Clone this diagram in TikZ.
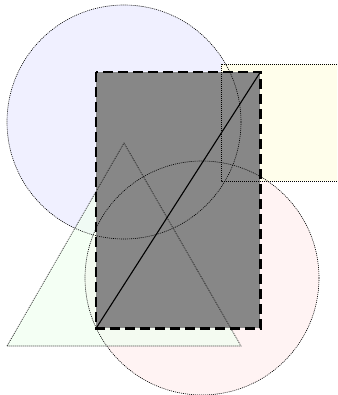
\documentclass[tikz,border=0pt]{standalone}
\begin{document}
\begin{tikzpicture}[x=1pt,y=-1pt,
  shapeline/.style={draw=black,dash pattern=on 1pt off 1pt,line width=0.6pt},
  graybox/.style={fill=black!47},
  grayborder/.style={draw=black,line width=2.8pt,dash pattern=on 10pt off 5pt},
  diag/.style={draw=black,line width=1.1pt}]
\useasboundingbox (0,0) rectangle (337,395);
\clip (0,0) rectangle (337,395);
% fills
\fill[blue!6] (124,122) circle (117);
\fill[red!6,fill opacity=0.8] (202,278) circle (117);
\fill[yellow!8] (221,64) rectangle (345,181);
\fill[green!6,fill opacity=0.7] (7,346) -- (124,143) -- (241,346) -- cycle;
% gray box
\node[graybox,draw=none,inner sep=0pt,minimum width=164pt,minimum height=256pt,anchor=north west] (box) at (96,72) {};
% outlines
\draw[shapeline] (124,122) circle (117);
\draw[shapeline] (202,278) circle (117);
\draw[shapeline] (345,64) -- (221,64) -- (221,181) -- (345,181);
\draw[shapeline] (7,346) -- (124,143) -- (241,346) -- cycle;
\draw[grayborder] (box.north west) rectangle (box.south east);
\draw[diag] (box.south west) -- (box.north east);
\end{tikzpicture}
\end{document}
